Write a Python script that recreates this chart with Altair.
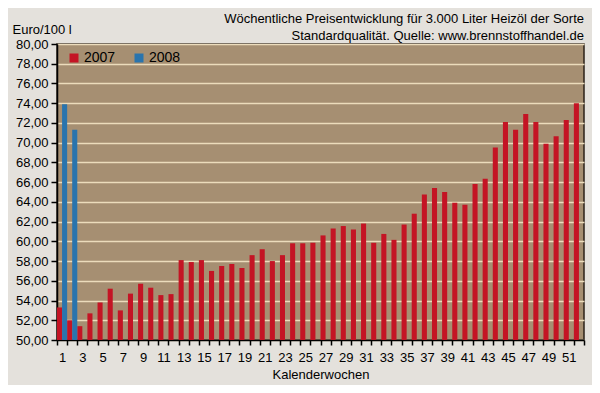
import altair as alt
import pandas as pd

weeks_2007 = list(range(1, 53))
prices_2007 = [53.3, 52.0, 51.4, 52.7, 53.8, 55.2, 53.0, 54.7, 55.7, 55.3,
               54.55, 54.65, 58.1, 57.9, 58.1, 57.0, 57.5, 57.7, 57.3, 58.6,
               59.2, 58.0, 58.6, 59.8, 59.8, 59.85, 60.6, 61.3, 61.55, 61.2,
               61.8, 59.85, 60.75, 60.15, 61.7, 62.8, 64.75, 65.4, 65.0, 63.9,
               63.7, 65.8, 66.35, 69.5, 72.1, 71.3, 72.9, 72.1, 69.9, 70.65,
               72.3, 74.0]
weeks_2008 = [1, 2]
prices_2008 = [73.9, 71.3]
years = ["2007", "2008"]
colors = ["#c41424", "#2a74ad"]
y_ticks = list(range(50, 82, 2))

df = pd.concat([
    pd.DataFrame({"Woche": weeks_2007, "Preis": prices_2007, "Jahr": years[0]}),
    pd.DataFrame({"Woche": weeks_2008, "Preis": prices_2008, "Jahr": years[1]}),
], ignore_index=True)

FONT = "Liberation Sans"

bars = alt.Chart(df).mark_bar().encode(
    x=alt.X("Woche:O",
            scale=alt.Scale(paddingInner=0, paddingOuter=0),
            axis=alt.Axis(title="Kalenderwochen", labelAngle=0,
                          labelExpr="datum.value % 2 == 1 ? datum.label : ''",
                          tickBand="extent", tickSize=5, tickWidth=1.5,
                          tickColor="black", domainColor="black", domainWidth=1.5,
                          labelPadding=6, titlePadding=4, grid=False)),
    xOffset=alt.XOffset("Jahr:N", scale=alt.Scale(domain=years, paddingInner=0, paddingOuter=0)),
    y=alt.Y("Preis:Q",
            scale=alt.Scale(domain=[50, 80], nice=False, zero=False),
            axis=alt.Axis(values=y_ticks, title="Euro/100 l",
                          labelExpr="replace(format(datum.value, '.2f'), '.', ',')",
                          tickSize=6, tickWidth=1.5, tickColor="black",
                          domainColor="black", domainWidth=1.5, labelPadding=3,
                          titleAngle=0, titleAlign="left", titleBaseline="alphabetic",
                          titleX=-45, titleY=-11,
                          grid=True, gridColor="#ecdcbc", gridWidth=1.5)),
    y2=alt.datum(50),
    color=alt.Color("Jahr:N", scale=alt.Scale(domain=years, range=colors),
                    legend=alt.Legend(title=None, orient="none", direction="horizontal",
                                      legendX=10, legendY=7, padding=0,
                                      symbolType="square", symbolSize=81,
                                      symbolStrokeWidth=0, symbolOpacity=1,
                                      labelFontSize=14, labelOffset=3,
                                      columnPadding=16, labelFont=FONT,
                                      labelColor="black")),
)

chart = bars.properties(
    width=527, height=296,
    autosize=alt.AutoSizeParams(type="none"),
    padding={"left": 49, "top": 36, "right": 8, "bottom": 45},
    background="#e4e1dc",
    title=alt.TitleParams(
        text=["Wöchentliche Preisentwicklung für 3.000 Liter Heizöl der Sorte",
              "Standardqualität. Quelle: www.brennstoffhandel.de"],
        anchor="end", frame="group", fontSize=13, fontWeight="normal",
        font=FONT, color="black", lineHeight=17, offset=-20),
).configure_view(
    fill="#a68f72", stroke="#2b2218", strokeWidth=1.5
).configure_axis(
    labelFont=FONT, titleFont=FONT, labelFontSize=13, titleFontSize=13,
    labelColor="black", titleColor="black", titleFontWeight="normal"
)

chart.save("out.html", embed_options={"renderer": "svg", "actions": False})
